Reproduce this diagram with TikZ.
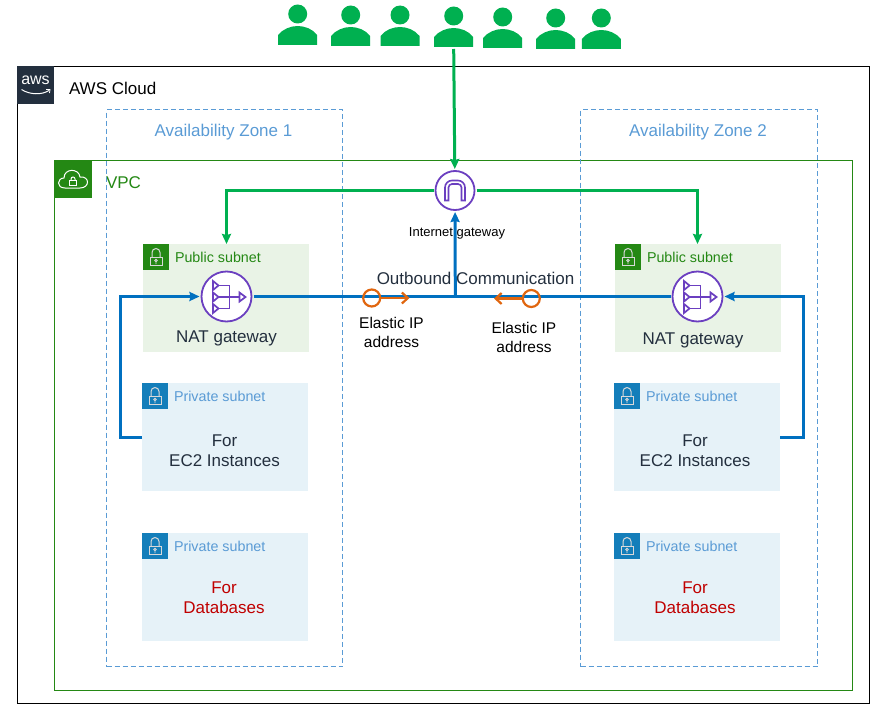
\documentclass[tikz,border=0pt]{standalone}
\usepackage{fontspec}
\setmainfont{Liberation Sans}
\usetikzlibrary{positioning,arrows.meta}

\definecolor{awsink}{HTML}{232F3E}
\definecolor{vpcgreen}{HTML}{248814}
\definecolor{pubfill}{HTML}{E9F3E6}
\definecolor{privfill}{HTML}{E6F2F8}
\definecolor{privblue}{HTML}{147EBA}
\definecolor{zoneblue}{HTML}{5A9BD5}
\definecolor{flowgreen}{HTML}{00B050}
\definecolor{flowblue}{HTML}{0070C0}
\definecolor{eiporange}{HTML}{E0660F}
\definecolor{gwpurple}{HTML}{6B3FC0}
\definecolor{dbred}{HTML}{C00000}

\tikzset{
  box/.style={rectangle,anchor=north west,inner sep=0pt,outer sep=0pt},
  txt/.style={inner sep=0pt,outer sep=0pt,align=center},
  cloudbox/.style={box,draw=black,line width=1pt,minimum width=852,minimum height=637},
  vpcbox/.style={box,draw=vpcgreen,line width=1pt,minimum width=798,minimum height=530},
  zonebox/.style={box,draw=zoneblue,line width=1pt,dash pattern=on 5pt off 3pt,minimum width=236,minimum height=557},
  pubbox/.style={box,fill=pubfill,minimum width=166,minimum height=108},
  privbox/.style={box,fill=privfill,minimum width=166,minimum height=108},
  pubicon/.style={box,fill=vpcgreen,minimum size=26},
  privicon/.style={box,fill=privblue,minimum size=26},
  publabel/.style={txt,text=vpcgreen,yshift=-.7pt,font=\fontsize{14.3}{17}\selectfont},
  privlabel/.style={txt,text=zoneblue,yshift=-.7pt,font=\fontsize{14.3}{17}\selectfont},
  zonelabel/.style={txt,text=zoneblue,font=\fontsize{17}{20}\selectfont},
  darktext/.style={txt,text=awsink,font=\fontsize{17}{20}\selectfont},
  dbtext/.style={txt,text=dbred,font=\fontsize{17}{20}\selectfont},
  eiptext/.style={txt,text=black,font=\fontsize{15.5}{19}\selectfont},
  gateway/.style={circle,draw=gwpurple,line width=1.8pt,fill=white,inner sep=0pt,outer sep=2pt},
  greenflow/.style={draw=flowgreen,line width=3pt,-{Stealth[length=10pt,width=9pt,inset=1pt]}},
  blueflow/.style={draw=flowblue,line width=3pt},
  bluetip/.style={blueflow,-{Stealth[length=10pt,width=9pt,inset=1pt]}},
  eipring/.style={circle,draw=eiporange,line width=2.2pt,minimum size=17,inner sep=0pt,outer sep=1pt},
  eipflow/.style={draw=eiporange,line width=2.2pt,-{Straight Barb[length=6pt,width=11pt]}},
  person/.pic={
    \fill[flowgreen] (0,0) circle (9.5);
    \fill[flowgreen] (-19.5,31) -- (-19.5,21) .. controls (-15,15) and (-7,12) .. (0,12)
      .. controls (7,12) and (15,15) .. (19.5,21) -- (19.5,31) -- cycle;
    \coordinate (-foot) at (0,33);
  },
  lockglyph/.pic={
    \draw[white!85!black,line width=1pt,fill=none] (-6,0) rectangle (6,8.5);
    \draw[white!85!black,line width=1pt] (-4,0) -- (-4,-4.5) arc (180:360:4) -- (4,0);
    \draw[white!85!black,line width=.8pt] (0,3.5) circle (1.3) (0,4.8) -- (0,7);
  },
  natglyph/.pic={
    \draw[gwpurple,line width=1.9pt] (-8,-11) -- (3,-11) -- (3,12) -- (-8,12) (-8,.5) -- (13,.5);
    \foreach \ty in {-11,.5,12} \draw[gwpurple,line width=1.7pt,fill=white] (-13.5,\ty-4.5) -- (-8,\ty) -- (-13.5,\ty+4.5) -- cycle;
    \draw[gwpurple,line width=1.7pt,fill=white] (13,-4) -- (19,.5) -- (13,5) -- cycle;
  },
  archglyph/.pic={
    \draw[gwpurple,line width=1.6pt,fill=white] (-10,10) -- (-10,-3) arc (180:270:7) -- (3,-10) arc (270:360:7) -- (10,10)
      -- (6.5,10) -- (6.5,-3) arc (360:270:3.5) -- (-3,-6.5) arc (270:180:3.5) -- (-6.5,10) -- cycle;
  },
  cloudglyph/.pic={
    \draw[white,line width=1pt] (-8,9) .. controls (-17,9) and (-16,-1) .. (-9,-1)
      .. controls (-9,-11) and (6,-11) .. (7,-2) .. controls (17,-3) and (17,9) .. (7,9) -- cycle;
    \draw[white,line width=1pt] (-3.5,1) rectangle (3.5,6);
    \draw[white,line width=1pt] (-2,1) -- (-2,0) arc (180:360:2) -- (2,1);
  }
}

\begin{document}
\begin{tikzpicture}[x=1pt,y=-1pt]
  \useasboundingbox (0,0) rectangle (880,709);

  \node[cloudbox] (cloud) at (17.5,66.5) {};
  \node[box,fill=awsink,minimum width=37,minimum height=38] (awslogo) at (17,66) {};
  \node[txt,text=white,font=\fontsize{16}{16}\selectfont] (awsmark) at (35.5,80.5) {aws};
  \draw[white,line width=1pt] (21.5,89.5) .. controls (30,95) and (42,95) .. (49,90.5);
  \draw[white,line width=.8pt] (46,89.5) -- (50,89.5) -- (49.5,93);
  \node[txt,font=\fontsize{17}{20}\selectfont,anchor=west] (cloudname) at (69,88) {AWS Cloud};

  \node[vpcbox] (vpc) at (54.5,160.5) {};
  \node[box,fill=vpcgreen,minimum width=38,minimum height=38] (vpclogo) at (54,160) {};
  \pic at (vpclogo) {cloudglyph};
  \node[txt,text=vpcgreen,font=\fontsize{17}{20}\selectfont,anchor=west] (vpcname) at (106,183) {VPC};

  \node[zonebox] (zoneA) at (106.5,109.5) {};
  \node[zonebox,minimum width=237] (zoneB) at (580.5,109.5) {};
  \node[zonelabel] (zoneAname) at (223.5,132) {Availability Zone 1};
  \node[zonelabel] (zoneBname) at (698,132) {Availability Zone 2};

  % subnets
  \foreach \name/\bx in {pubA/143,pubB/615} {
    \node[pubbox] (\name) at (\bx,244) {};
    \node[pubicon] (\name-icon) at (\bx,244) {};
    \pic at (\name-icon) {lockglyph};
    \node[publabel,right=6pt of \name-icon] (\name-label) {Public subnet};
  }
  \foreach \name/\bx/\by in {privA/142/383,dbA/142/533,privB/614/383,dbB/614/533} {
    \node[privbox] (\name) at (\bx,\by) {};
    \node[privicon] (\name-icon) at (\bx,\by) {};
    \pic at (\name-icon) {lockglyph};
    \node[privlabel,right=6pt of \name-icon] (\name-label) {Private subnet};
  }
  \node[darktext] (privAtext) at (224.5,451) {For\\[0pt]EC2 Instances};
  \node[darktext] (privBtext) at (695,451) {For\\[0pt]EC2 Instances};
  \node[dbtext] (dbAtext) at (224,598) {For\\[0pt]Databases};
  \node[dbtext] (dbBtext) at (695,598) {For\\[0pt]Databases};

  % users
  \foreach \name/\ux/\uy in {userA/297.7/14,userB/350.7/15,userC/400/15,userD/453.7/16,userE/502.7/17,userF/555.7/18,userG/601.3/18}
    \pic (\name) at (\ux,\uy) {person};

  % gateways
  \node[gateway,minimum size=39] (igw) at (455,190.5) {};
  \pic at (igw) {archglyph};
  \node[gateway,minimum size=50] (natA) at (226.5,296.5) {};
  \pic at (natA) {natglyph};
  \node[gateway,minimum size=50] (natB) at (697.5,296.5) {};
  \pic at (natB) {natglyph};
  \node[txt,font=\fontsize{13}{15}\selectfont] (igwname) at (457,233.5) {Internet gateway};
  \node[darktext] (natAname) at (226.5,338) {NAT gateway};
  \node[darktext] (natBname) at (693,340) {NAT gateway};

  % traffic
  \coordinate (outjoin) at (455.3,296.5);
  \path[greenflow] (userD-foot) -- (igw);
  \path[greenflow] (igw) -| (pubA.north -| natA);
  \path[greenflow] (igw) -| (pubB.north -| natB);
  \path[blueflow] (natA) -- (natB);
  \path[bluetip] (outjoin) -- (igw);
  \path[bluetip] (privA.west) -- ++(-22,0) |- (natA);
  \path[bluetip] (privB.east) -- ++(23,0) |- (natB);

  \node[txt,text=awsink,font=\fontsize{17}{20}\selectfont] (outname) at (475.5,278) {Outbound Communication};

  % elastic ips
  \node[eipring] (eipA) at (371.7,298) {};
  \node[eipring] (eipB) at (531.3,298.5) {};
  \coordinate (eipAtip) at (409.5,298);
  \coordinate (eipBtip) at (494,298.5);
  \path[eipflow] (eipA) -- (eipAtip);
  \path[eipflow] (eipB) -- (eipBtip);
  \node[eiptext] (eipAname) at (391.5,332.5) {Elastic IP\\[0pt]address};
  \node[eiptext] (eipBname) at (524,337.5) {Elastic IP\\[0pt]address};
\end{tikzpicture}
\end{document}
